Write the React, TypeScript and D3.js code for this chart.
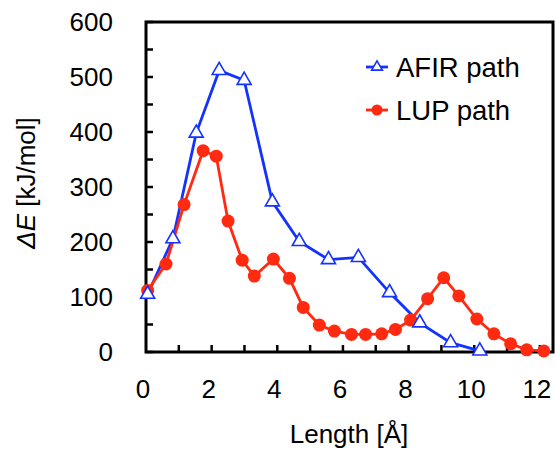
import React from "react";
import * as d3 from "d3";

const afirX = [0.05, 0.82, 1.53, 2.23, 2.99, 3.85, 4.67, 5.56, 6.47, 7.42, 8.34, 9.28, 10.17];
const afirY = [105, 206, 398, 512, 494, 273, 201, 168, 172, 108, 53, 17, 2];

const lupX = [0.05, 0.61, 1.16, 1.74, 2.14, 2.5, 2.93, 3.3, 3.88, 4.37, 4.79, 5.28, 5.74, 6.26, 6.69, 7.18, 7.6, 8.06, 8.58, 9.07, 9.53, 10.08, 10.6, 11.11, 11.6, 12.12];
const lupY = [112, 160, 268, 366, 356, 238, 167, 138, 169, 134, 81, 49, 38, 32, 32, 33, 41, 58, 97, 135, 102, 60, 33, 15, 4, 2];

const yTicks = [0, 100, 200, 300, 400, 500, 600];
const xTicks = [0, 2, 4, 6, 8, 10, 12];

const W = 556;
const H = 450;
const left = 146;
const right = 553;
const top = 22;
const bottom = 352;

const BLUE = "#1432ff";
const RED = "#ff2a10";

export default function App() {
  const x = d3.scaleLinear().domain([0, 12.4]).range([left, right]);
  const y = d3.scaleLinear().domain([0, 600]).range([bottom, top]);

  const afir = afirX.map((v, i) => [v, afirY[i]] as [number, number]);
  const lup = lupX.map((v, i) => [v, lupY[i]] as [number, number]);

  const line = d3
    .line<[number, number]>()
    .x(d => x(d[0]))
    .y(d => y(d[1]));

  const tri = d3.symbol().type(d3.symbolTriangle).size(85)();

  const font = "Liberation Sans, Arial, sans-serif";
  const fs = 26;

  return (
    <svg width={W} height={H} style={{ position: "absolute", left: 0, top: 0 }}>
      <rect width={W} height={H} fill="#fff" />
      {/* minor y ticks */}
      {d3.range(0, 601, 50).map(v => (
        <line key={"yt" + v} x1={left} x2={left + 7} y1={y(v)} y2={y(v)} stroke="#000" strokeWidth={2.5} />
      ))}
      {d3.range(1, 13).map(v => (
        <line key={"xt" + v} x1={x(v)} x2={x(v)} y1={bottom} y2={bottom - 7} stroke="#000" strokeWidth={2.5} />
      ))}
      <rect x={left} y={top} width={right - left} height={bottom - top} fill="none" stroke="#000" strokeWidth={3} />

      {yTicks.map(v => (
        <text key={"yl" + v} x={113} y={y(v)} dy="0.36em" textAnchor="end" fontFamily={font} fontSize={fs}>
          {v}
        </text>
      ))}
      {xTicks.map(v => (
        <text key={"xl" + v} x={x(v) - 3} y={398} textAnchor="middle" fontFamily={font} fontSize={fs}>
          {v}
        </text>
      ))}
      <text x={349} y={443} textAnchor="middle" fontFamily={font} fontSize={fs}>
        Length [Å]
      </text>
      <text transform="translate(35,183) rotate(-90)" textAnchor="middle" fontFamily={font} fontSize={fs}>
        <tspan fontStyle="italic">ΔE</tspan> [kJ/mol]
      </text>

      <path d={line(afir) ?? ""} fill="none" stroke={BLUE} strokeWidth={2.8} />
      <path d={line(lup) ?? ""} fill="none" stroke={RED} strokeWidth={2.8} />
      {lup.map((d, i) => (
        <circle key={"c" + i} cx={x(d[0])} cy={y(d[1])} r={6.5} fill={RED} />
      ))}
      {afir.map((d, i) => (
        <path key={"t" + i} d={tri ?? ""} transform={`translate(${x(d[0])},${y(d[1])})`} fill="#fff" stroke={BLUE} strokeWidth={1.6} />
      ))}

      {/* legend */}
      <line x1={366} x2={388} y1={67} y2={67} stroke={BLUE} strokeWidth={2.8} />
      <path d={d3.symbol().type(d3.symbolTriangle).size(50)() ?? ""} transform="translate(377,67)" fill="#fff" stroke={BLUE} strokeWidth={1.6} />
      <text x={396} y={77} fontFamily={font} fontSize={27.5}>AFIR path</text>
      <line x1={366} x2={388} y1={110} y2={110} stroke={RED} strokeWidth={2.8} />
      <circle cx={377} cy={110} r={5.5} fill={RED} />
      <text x={396} y={120} fontFamily={font} fontSize={27.5}>LUP path</text>
    </svg>
  );
}
